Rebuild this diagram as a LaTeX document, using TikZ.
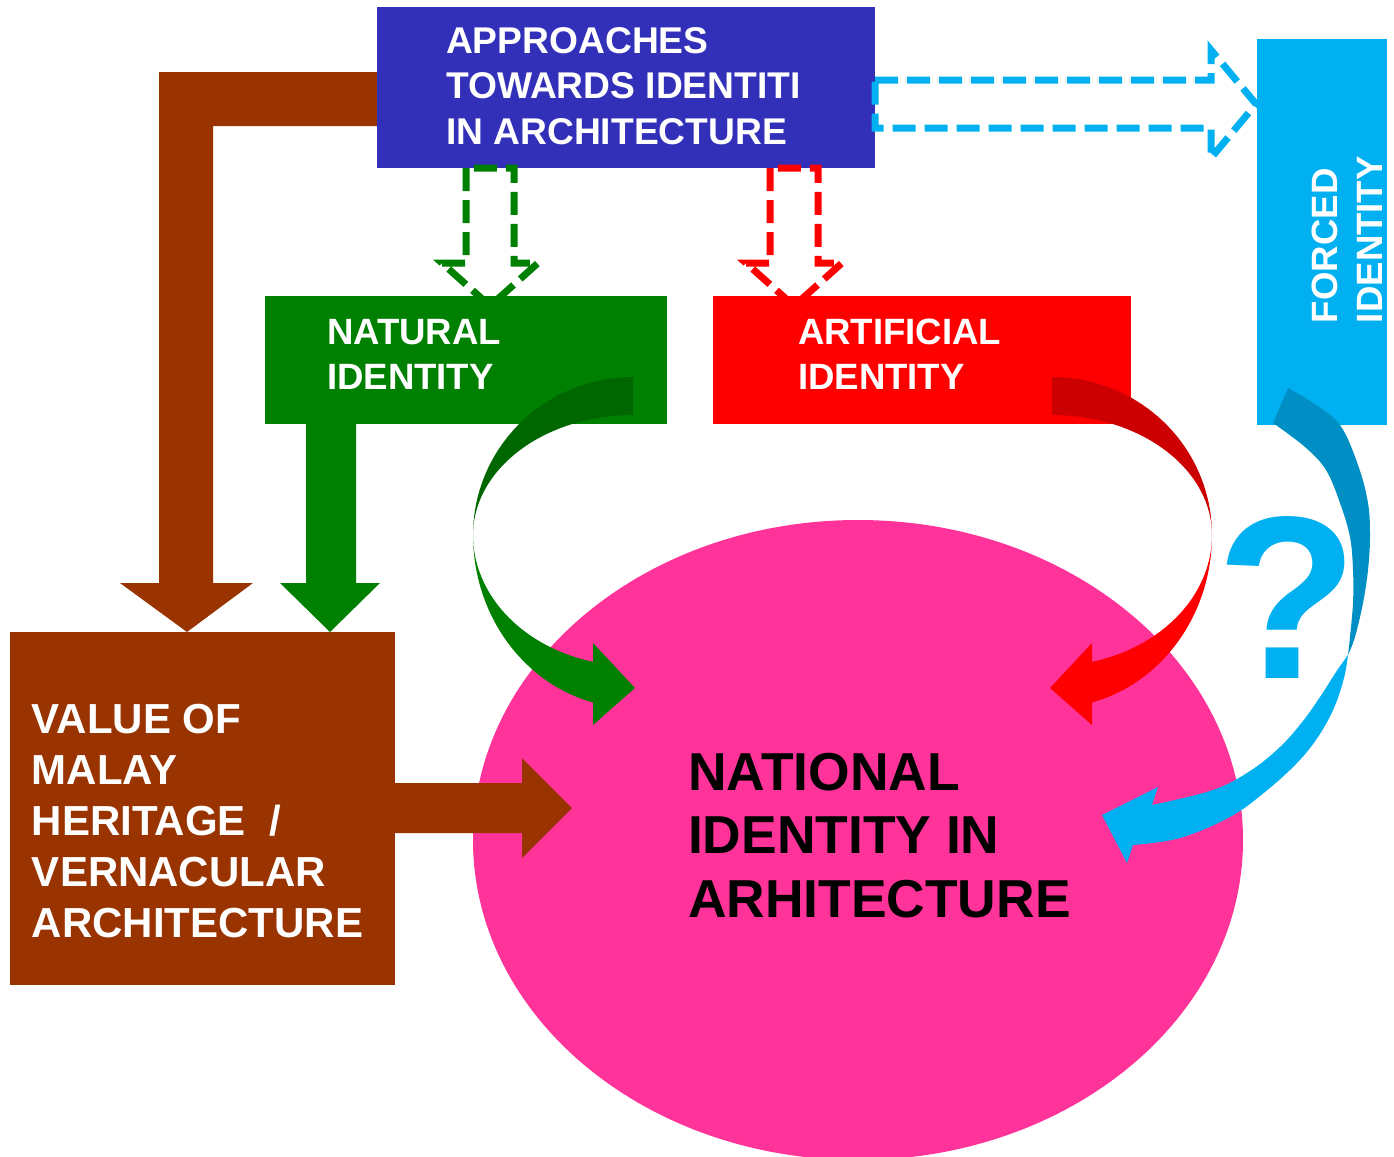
\documentclass[tikz,border=0pt]{standalone}
\usepackage{fontspec}
\setmainfont{Liberation Sans}
\usetikzlibrary{shapes.geometric}

\definecolor{bluebox}{RGB}{50,47,185}
\definecolor{brownc}{RGB}{153,51,0}
\definecolor{greenc}{RGB}{0,128,0}
\definecolor{dkgreen}{RGB}{0,102,0}
\definecolor{redc}{RGB}{255,0,0}
\definecolor{dkred}{RGB}{204,0,0}
\definecolor{cyanc}{RGB}{0,176,240}
\definecolor{dkcyan}{RGB}{0,143,196}
\definecolor{pinkc}{RGB}{255,51,153}

\newcommand{\fntBlue}{\fontsize{18.6pt}{22.75pt}\selectfont\bfseries}
\newcommand{\fntMid}{\fontsize{18.3pt}{22.5pt}\selectfont\bfseries}
\newcommand{\fntBrown}{\fontsize{21pt}{25.5pt}\selectfont\bfseries}
\newcommand{\fntNat}{\fontsize{26.7pt}{31.75pt}\selectfont\bfseries}

\begin{document}
\begin{tikzpicture}[x=0.5pt,y=-0.5pt,
  box/.style={draw=none, inner sep=0pt, outer sep=0pt, rectangle},
  lbl/.style={inner sep=0pt, outer sep=0pt, anchor=base west, text=white},
  dasharrow/.style={line width=3.5pt, dash pattern=on 11.5pt off 4.5pt, miter limit=4},
  plotarc/.style={samples=40, variable=\t}
]
\useasboundingbox (0,0) rectangle (1394,1157);
\fill[white] (0,0) rectangle (1394,1157);

% brown bent arrow from approaches box to heritage box
\fill[brownc] (380,72) -- (159,72) -- (159,583) -- (120,583) -- (187,632) -- (253,583) -- (213,583) -- (213,126) -- (380,126) -- cycle;

% top box
\node[box, fill=bluebox, minimum width=249pt, minimum height=80.5pt] (appr) at (626,87.5) {};

% dashed block arrows
\draw[dasharrow, draw=greenc] (466,168) -- (466,263) -- (442,263) -- (490,306) -- (538,263) -- (514,263) -- (514,168) -- cycle;
\draw[dasharrow, draw=redc] (770,168) -- (770,263) -- (746,263) -- (794,306) -- (842,263) -- (818,263) -- (818,168) -- cycle;
\draw[dasharrow, draw=cyanc] (875,80) -- (1211,80) -- (1211,50) -- (1256,104) -- (1211,158) -- (1211,128) -- (875,128) -- cycle;

% identity boxes
\node[box, fill=greenc, minimum width=201pt, minimum height=64pt] (nat) at (466,360) {};
\node[box, fill=redc, minimum width=209pt, minimum height=64pt] (art) at (922,360) {};
\node[box, fill=cyanc, minimum width=65pt, minimum height=193pt] (forc) at (1322,232) {};
\node[box, fill=brownc, minimum width=192.5pt, minimum height=176.5pt] (herit) at (202.5,808.5) {};

% national ellipse
\node[ellipse, fill=pinkc, inner sep=0pt, minimum width=385pt, minimum height=320pt] (natid) at (858,840) {};

% green straight arrow down
\fill[greenc] (306,420) -- (306,583) -- (280,583) -- (330,632) -- (380,583) -- (356,583) -- (356,420) -- cycle;

% brown arrow right
\fill[brownc] (393,783) -- (522,783) -- (522,758) -- (572,808) -- (522,858) -- (522,833) -- (393,833) -- cycle;

% green curved arrow
\fill[dkgreen] plot[plotarc, domain=270:180] ({633+160*cos(\t)},{535+158*sin(\t)})
  -- plot[plotarc, domain=180:270] ({633+160*cos(\t)},{535+120*sin(\t)}) -- cycle;
\fill[greenc] plot[plotarc, domain=180:104.48] ({633+160*cos(\t)},{535+173*sin(\t)})
  -- (593,725) -- (635,688) -- (593,643) -- (593,662)
  -- plot[plotarc, domain=104.48:180] ({633+160*cos(\t)},{535+131*sin(\t)}) -- cycle;

% red curved arrow
\fill[dkred] plot[plotarc, domain=270:360] ({1052+160*cos(\t)},{535+158*sin(\t)})
  -- plot[plotarc, domain=360:270] ({1052+160*cos(\t)},{535+120*sin(\t)}) -- cycle;
\fill[redc] plot[plotarc, domain=0:75.52] ({1052+160*cos(\t)},{535+173*sin(\t)})
  -- (1092,725) -- (1050,688) -- (1092,643) -- (1092,662)
  -- plot[plotarc, domain=75.52:0] ({1052+160*cos(\t)},{535+131*sin(\t)}) -- cycle;

% cyan curved arrow
\fill[dkcyan] plot[smooth, tension=0.6] coordinates {(1288,388) (1313,403) (1340,425) (1358,465) (1368,503) (1370,537) (1368,570) (1363,603) (1355,637) (1348,655)}
  -- plot[smooth, tension=0.6] coordinates {(1348,655) (1350,637) (1353,603) (1353,570) (1350,537) (1340,503) (1326,470) (1305,447) (1273,423)} -- cycle;
\fill[cyanc] plot[smooth, tension=0.6] coordinates {(1348,655) (1344,678) (1334,708) (1318,737) (1297,763) (1265,792) (1230,817) (1180,838) (1133,845)}
  -- (1127,863) -- (1102,815) -- (1158,787) -- (1152,805)
  -- plot[smooth, tension=0.6] coordinates {(1152,805) (1213,790) (1250,771) (1280,747) (1303,721) (1322,694) (1336,672) (1348,655)} -- cycle;

% texts
\node[lbl, font=\fntBlue] (tappr) at (446,53) {\vtop{\hbox{APPROACHES}\hbox{TOWARDS IDENTITI}\hbox{IN ARCHITECTURE}}};
\node[lbl, font=\fntMid] (tnat) at (327,344) {\vtop{\hbox{NATURAL}\hbox{IDENTITY}}};
\node[lbl, font=\fntMid] (tart) at (798,344) {\vtop{\hbox{ARTIFICIAL}\hbox{IDENTITY}}};
\node[lbl, font=\fntMid, rotate=90] (tforc) at (1337,323) {\vtop{\hbox{FORCED}\hbox{IDENTITY}}};
\node[lbl, font=\fntBrown] (therit) at (32,733) {\vtop{\hbox{VALUE OF}\hbox{MALAY}\hbox{HERITAGE\ \ /}\hbox{VERNACULAR}\hbox{ARCHITECTURE}}};
\node[lbl, font=\fntNat, text=black] (tnatid) at (688,790) {\vtop{\hbox{NATIONAL}\hbox{IDENTITY IN}\hbox{ARHITECTURE}}};
\node[inner sep=0pt, anchor=base, text=cyanc, font=\fontsize{116pt}{116pt}\selectfont\bfseries] (qmark) at (1287,678) {?};
\end{tikzpicture}
\end{document}
